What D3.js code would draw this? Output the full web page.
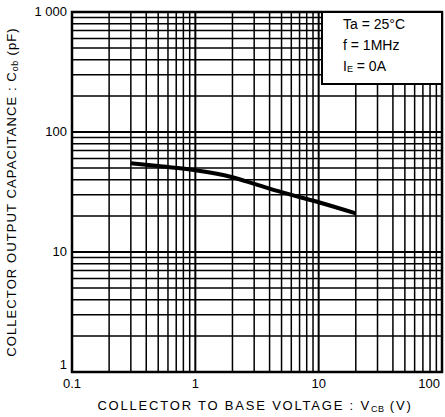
<!DOCTYPE html>
<html>
<head>
<meta charset="utf-8">
<script src="https://cdn.jsdelivr.net/npm/d3@7"></script>
<style>
  body { margin: 0; background: #fff; }
  text { font-family: "Liberation Sans", Arial, sans-serif; fill: #000; }
</style>
</head>
<body>
<div id="chart"></div>
<script>
// data
const voltage = [0.3, 0.5, 1, 2, 3, 5, 10, 20];
const capacitance = [55, 52, 48, 42, 37, 31.5, 26, 21];

const xTicks = [0.1, 1, 10, 100];
const xTickLabels = ["0.1", "1", "10", "100"];
const yTicks = [1, 10, 100, 1000];
const yTickLabels = ["1", "10", "100", "1 000"];

const width = 445;
const height = 417;
const margin = { left: 72, right: 3, top: 12, bottom: 45 };

const svg = d3.select("#chart").append("svg")
    .attr("width", width)
    .attr("height", height)

const x = d3.scaleLog()
    .domain([0.1, 100])
    .range([margin.left, width - margin.right])

const y = d3.scaleLog()
    .domain([1, 1000])
    .range([height - margin.bottom, margin.top])

// minor + major grid values
const xGrid = [];
const yGrid = [];
[0.1, 1, 10].forEach(d => { for (let k = 1; k < 10; k++) xGrid.push(d * k) });
[1, 10, 100].forEach(d => { for (let k = 1; k < 10; k++) yGrid.push(d * k) });

const grid = svg.append("g")

grid.selectAll(".vx")
    .data(xGrid)
    .join("line")
    .attr("x1", d => x(d)).attr("x2", d => x(d))
    .attr("y1", y(1)).attr("y2", y(1000))
    .attr("stroke", "#000")
    .attr("stroke-width", d => xTicks.includes(d) ? 2 : 1.5)

grid.selectAll(".hy")
    .data(yGrid)
    .join("line")
    .attr("y1", d => y(d)).attr("y2", d => y(d))
    .attr("x1", x(0.1)).attr("x2", x(100))
    .attr("stroke", "#000")
    .attr("stroke-width", d => yTicks.includes(d) ? 2 : 1.5)

// frame
svg.append("rect")
    .attr("x", x(0.1)).attr("y", y(1000))
    .attr("width", x(100) - x(0.1))
    .attr("height", y(1) - y(1000))
    .attr("fill", "none")
    .attr("stroke", "#000")
    .attr("stroke-width", 2.5)

// curve
svg.append("path")
    .datum(voltage.map((v, i) => [v, capacitance[i]]))
    .attr("fill", "none")
    .attr("stroke", "#000")
    .attr("stroke-width", 4)
    .attr("d", d3.line().x(d => x(d[0])).y(d => y(d[1])).curve(d3.curveMonotoneX))

// conditions box
const box = svg.append("g")
box.append("rect")
    .attr("x", 322).attr("y", y(1000))
    .attr("width", x(100) - 322)
    .attr("height", 72)
    .attr("fill", "#fff")
    .attr("stroke", "#000")
    .attr("stroke-width", 2)

const t1 = box.append("text").attr("x", 343).attr("y", 29).attr("font-size", 14)
t1.text("Ta = 25°C")
const t2 = box.append("text").attr("x", 343).attr("y", 50).attr("font-size", 14)
t2.text("f = 1MHz")
const t3 = box.append("text").attr("x", 343).attr("y", 71).attr("font-size", 14)
t3.append("tspan").text("I")
t3.append("tspan").attr("font-size", 9).attr("dy", 1).text("E")
t3.append("tspan").attr("dy", -1).text(" = 0A")

// tick labels
svg.selectAll(".xl")
    .data(xTicks)
    .join("text")
    .attr("x", (d, i) => i === 3 ? x(d) - 2 : x(d))
    .attr("y", y(1) + 16)
    .attr("text-anchor", (d, i) => i === 3 ? "end" : "middle")
    .attr("font-size", 13)
    .text((d, i) => xTickLabels[i])

svg.selectAll(".yl")
    .data(yTicks)
    .join("text")
    .attr("x", x(0.1) - 5)
    .attr("y", (d, i) => i === 0 ? y(d) - 3 : y(d) + 4)
    .attr("text-anchor", "end")
    .attr("font-size", 13)
    .text((d, i) => yTickLabels[i])

// axis titles
const xt = svg.append("text")
    .attr("x", (x(0.1) + x(100)) / 2 - 2)
    .attr("y", 410)
    .attr("text-anchor", "middle")
    .attr("font-size", 13)
    .attr("letter-spacing", 1.8)
xt.append("tspan").text("COLLECTOR TO BASE VOLTAGE : V")
xt.append("tspan").attr("font-size", 9).attr("dy", 2).attr("letter-spacing", 0.5).text("CB")
xt.append("tspan").attr("dy", -2).text(" (V)")

const yt = svg.append("text")
    .attr("transform", `translate(16, ${(y(1) + y(1000)) / 2}) rotate(-90)`)
    .attr("text-anchor", "middle")
    .attr("font-size", 13)
    .attr("letter-spacing", 1.1)
yt.append("tspan").text("COLLECTOR OUTPUT CAPACITANCE : C")
yt.append("tspan").attr("font-size", 9).attr("dy", 2).attr("letter-spacing", 0.5).text("ob")
yt.append("tspan").attr("dy", -2).text(" (pF)")
</script>
</body>
</html>
